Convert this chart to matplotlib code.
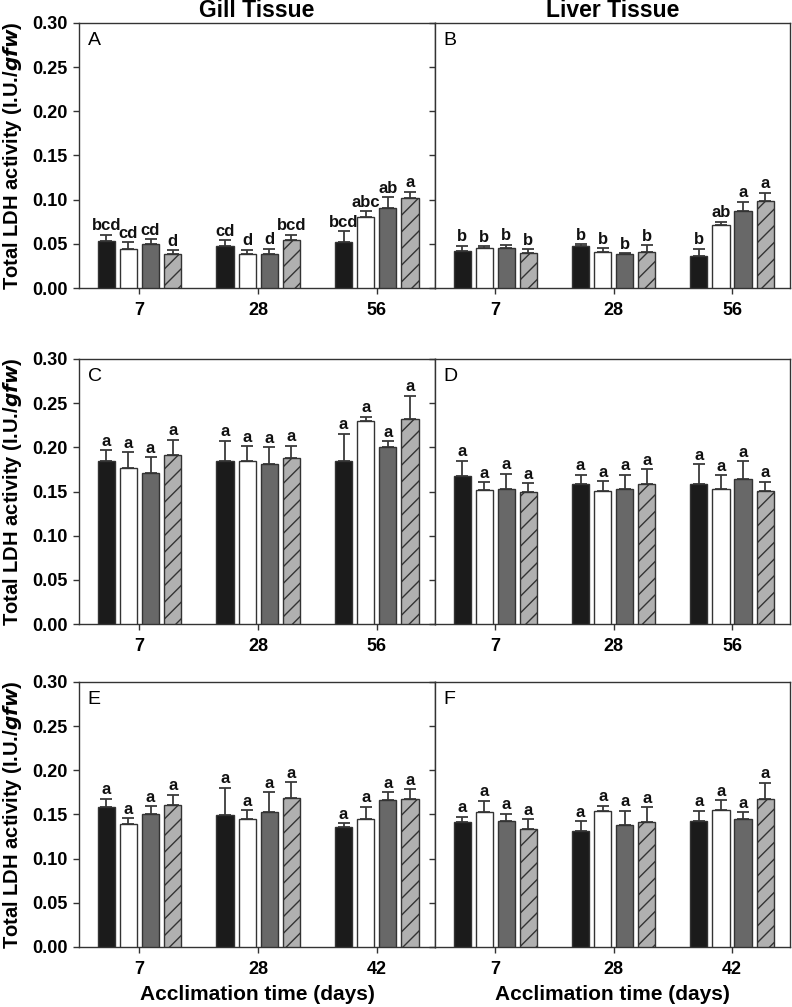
import numpy as np
import matplotlib
matplotlib.use("Agg")
from matplotlib import pyplot as plt

plt.rcParams['font.family'] = ['Liberation Sans', 'DejaVu Sans']
plt.rcParams['hatch.linewidth'] = 1.0

# four treatments per time point
FILLS = ['#1b1b1b', '#ffffff', '#686868', '#b0b0b0']
HATCHES = [None, None, None, '//']
EDGE = '#333333'

days_top = ['7', '28', '56']
days_bottom = ['7', '28', '42']

# means / upper error (one row per day, four treatments)
gill_A = [[0.053, 0.044, 0.050, 0.038],
          [0.048, 0.039, 0.039, 0.054],
          [0.052, 0.080, 0.091, 0.102]]
gill_A_err = [[0.0075, 0.0076, 0.0053, 0.0050],
              [0.0064, 0.0045, 0.0057, 0.0064],
              [0.0125, 0.0071, 0.0117, 0.0072]]
gill_A_lab = [['bcd', 'cd', 'cd', 'd'],
              ['cd', 'd', 'd', 'bcd'],
              ['bcd', 'abc', 'ab', 'a']]

liver_B = [[0.042, 0.045, 0.045, 0.040],
           [0.048, 0.041, 0.039, 0.041],
           [0.036, 0.071, 0.087, 0.098]]
liver_B_err = [[0.0061, 0.0026, 0.0038, 0.0042],
               [0.0019, 0.0042, 0.0007, 0.0072],
               [0.0087, 0.0042, 0.0105, 0.0099]]
liver_B_lab = [['b', 'b', 'b', 'b'],
               ['b', 'b', 'b', 'b'],
               ['b', 'ab', 'a', 'a']]

gill_C = [[0.185, 0.177, 0.171, 0.191],
          [0.185, 0.185, 0.181, 0.188],
          [0.185, 0.230, 0.200, 0.232]]
gill_C_err = [[0.0117, 0.0174, 0.0180, 0.0177],
              [0.0226, 0.0162, 0.0193, 0.0140],
              [0.0306, 0.0045, 0.0072, 0.0264]]
gill_C_lab = [['a'] * 4, ['a'] * 4, ['a'] * 4]

liver_D = [[0.167, 0.152, 0.153, 0.149],
           [0.158, 0.151, 0.153, 0.159],
           [0.159, 0.153, 0.164, 0.151]]
liver_D_err = [[0.0181, 0.0087, 0.0170, 0.0102],
               [0.0110, 0.0105, 0.0162, 0.0162],
               [0.0219, 0.0154, 0.0204, 0.0102]]
liver_D_lab = [['a'] * 4, ['a'] * 4, ['a'] * 4]

gill_E = [[0.159, 0.139, 0.151, 0.161],
          [0.149, 0.145, 0.153, 0.169],
          [0.136, 0.145, 0.166, 0.167]]
gill_E_err = [[0.0090, 0.0068, 0.0083, 0.0114],
              [0.0314, 0.0095, 0.0223, 0.0174],
              [0.0042, 0.0136, 0.0090, 0.0117]]
gill_E_lab = [['a'] * 4, ['a'] * 4, ['a'] * 4]

liver_F = [[0.142, 0.153, 0.143, 0.133],
           [0.131, 0.154, 0.138, 0.141],
           [0.143, 0.155, 0.145, 0.168]]
liver_F_err = [[0.0056, 0.0128, 0.0079, 0.0117],
               [0.0113, 0.0061, 0.0163, 0.0174],
               [0.0113, 0.0110, 0.0076, 0.0178]]
liver_F_lab = [['a'] * 4, ['a'] * 4, ['a'] * 4]

OFFSETS = [-0.28, -0.093, 0.093, 0.28]
BAR_W = 0.145


def drawPanel(ax, means, errs, labels, days, letter, left_col, show_xlabel):
    means = np.array(means)
    errs = np.array(errs)
    x = np.arange(1, len(days) + 1)
    for j in range(4):
        xs = x + OFFSETS[j]
        ax.bar(xs, means[:, j], BAR_W, color=FILLS[j], edgecolor=EDGE,
               linewidth=1.0, hatch=HATCHES[j], zorder=3)
        ax.errorbar(xs, means[:, j], yerr=[np.zeros(len(x)), errs[:, j]],
                    fmt='none', ecolor='#3a3a3a', elinewidth=1.3,
                    capsize=4, capthick=1.3, zorder=2)
        for k in range(len(x)):
            ax.annotate(labels[k][j], (xs[k], means[k, j] + errs[k, j]),
                        xytext=(0, 1), textcoords='offset points',
                        ha='center', va='bottom', fontsize=12,
                        fontweight='bold', color='#111111')

    ax.set_xlim(0.49, 3.49)
    ax.set_ylim(0, 0.30)
    ax.set_xticks(x)
    ax.set_xticklabels(days, fontsize=13, fontweight='bold')
    ax.tick_params(axis='x', direction='out', length=4, width=1,
                   color=EDGE, pad=6)
    ax.set_yticks(np.arange(0, 0.31, 0.05))
    if left_col:
        ax.set_yticklabels([f"{v:.2f}" for v in np.arange(0, 0.31, 0.05)],
                           fontsize=13, fontweight='bold')
        ax.tick_params(axis='y', direction='out', length=4, width=1,
                       color=EDGE, pad=4)
        ax.set_ylabel(r"Total LDH activity (I.U./$\mathbfit{gfw}$)",
                      fontsize=14.5, fontweight='bold', labelpad=6)
    else:
        ax.set_yticklabels([])
        ax.tick_params(axis='y', direction='out', length=4, width=1,
                       color=EDGE)
    for sp in ax.spines.values():
        sp.set_color(EDGE)
        sp.set_linewidth(1.0)
    ax.text(0.025, 0.965, letter, transform=ax.transAxes, ha='left',
            va='top', fontsize=14)
    if show_xlabel:
        ax.set_xlabel('Acclimation time (days)', fontsize=15,
                      fontweight='bold', labelpad=5)


fig = plt.figure(figsize=(7.92, 10.07), dpi=100)
lx, rx, w = 0.0997, 0.5492, 0.4495
rows = [0.7140, 0.3803, 0.0596]
h = 0.2632

panels = [
    (gill_A, gill_A_err, gill_A_lab, days_top, 'A'),
    (liver_B, liver_B_err, liver_B_lab, days_top, 'B'),
    (gill_C, gill_C_err, gill_C_lab, days_top, 'C'),
    (liver_D, liver_D_err, liver_D_lab, days_top, 'D'),
    (gill_E, gill_E_err, gill_E_lab, days_bottom, 'E'),
    (liver_F, liver_F_err, liver_F_lab, days_bottom, 'F'),
]

axes = []
for i, (m, e, lab, days, letter) in enumerate(panels):
    r, c = divmod(i, 2)
    ax = fig.add_axes([lx if c == 0 else rx, rows[r], w if c == 0 else 0.4482, h])
    drawPanel(ax, m, e, lab, days, letter, c == 0, r == 2)
    axes.append(ax)

axes[0].set_title('Gill Tissue', fontsize=16.5, fontweight='bold', pad=4)
axes[1].set_title('Liver Tissue', fontsize=16.5, fontweight='bold', pad=4)

plt.savefig('out.png', dpi=100)
